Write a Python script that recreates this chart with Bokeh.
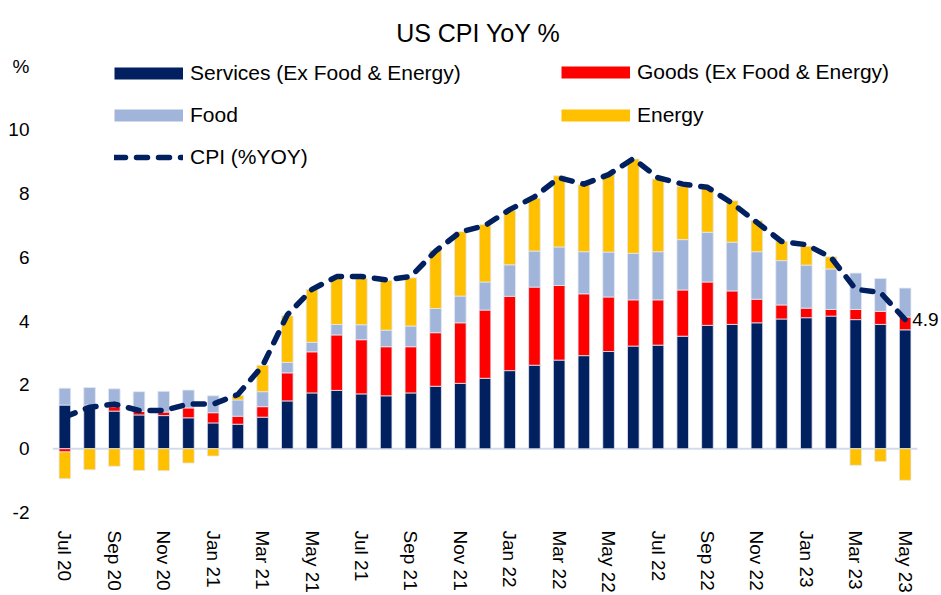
import math
import numpy as np
from bokeh.plotting import figure
from bokeh.models import (ColumnDataSource, Legend, LegendItem, Label,
                          FixedTicker, Range1d)
from bokeh.embed import file_html
from bokeh.resources import INLINE

months = ["Jul 20", "Aug 20", "Sep 20", "Oct 20", "Nov 20", "Dec 20",
          "Jan 21", "Feb 21", "Mar 21", "Apr 21", "May 21", "Jun 21",
          "Jul 21", "Aug 21", "Sep 21", "Oct 21", "Nov 21", "Dec 21",
          "Jan 22", "Feb 22", "Mar 22", "Apr 22", "May 22", "Jun 22",
          "Jul 22", "Aug 22", "Sep 22", "Oct 22", "Nov 22", "Dec 22",
          "Jan 23", "Feb 23", "Mar 23", "Apr 23", "May 23"]

services = [1.37, 1.33, 1.18, 1.06, 1.04, 0.97, 0.81, 0.77, 0.99, 1.50,
            1.75, 1.83, 1.72, 1.66, 1.75, 1.96, 2.05, 2.21, 2.45, 2.62,
            2.78, 2.92, 3.05, 3.22, 3.25, 3.53, 3.87, 3.90, 3.95, 4.07,
            4.11, 4.16, 4.05, 3.90, 3.73]
goods = [-0.10, 0.04, 0.14, 0.11, 0.11, 0.31, 0.32, 0.25, 0.33, 0.88,
         1.29, 1.74, 1.70, 1.54, 1.45, 1.68, 1.90, 2.14, 2.33, 2.45,
         2.34, 1.94, 1.71, 1.45, 1.42, 1.45, 1.36, 1.05, 0.74, 0.44,
         0.30, 0.21, 0.32, 0.41, 0.40]
food = [0.53, 0.55, 0.56, 0.62, 0.65, 0.56, 0.53, 0.51, 0.47, 0.33,
        0.30, 0.33, 0.47, 0.52, 0.65, 0.76, 0.84, 0.88, 0.99, 1.13,
        1.21, 1.32, 1.41, 1.46, 1.51, 1.58, 1.56, 1.53, 1.49, 1.39,
        1.35, 1.27, 1.14, 1.03, 0.91]
energy = [-0.84, -0.66, -0.55, -0.68, -0.69, -0.45, -0.23, 0.14, 0.83, 1.46,
          1.66, 1.49, 1.45, 1.56, 1.51, 1.82, 2.02, 1.80, 1.70, 1.66,
          2.23, 2.10, 2.44, 2.96, 2.28, 1.67, 1.41, 1.30, 0.98, 0.61,
          0.59, 0.38, -0.52, -0.40, -0.99]
cpi = [1.0, 1.3, 1.4, 1.2, 1.2, 1.4, 1.4, 1.7, 2.6, 4.2,
       5.0, 5.4, 5.4, 5.3, 5.4, 6.2, 6.8, 7.0, 7.5, 7.9,
       8.5, 8.3, 8.6, 9.1, 8.5, 8.3, 8.2, 7.7, 7.1, 6.5,
       6.4, 6.0, 5.0, 4.9, 4.05]
end_label = "4.9"
y_ticks = [-2, 0, 2, 4, 6, 8, 10]
y_tick_labels = ["-2", "0", "2", "4", "6", "8", "10"]
y_unit = "%"

series_names = ["Services (Ex Food & Energy)", "Goods (Ex Food & Energy)", "Food", "Energy"]
series_vals = [services, goods, food, energy]
series_colors = ["#002060", "#FF0000", "#A1B5DA", "#FFC000"]

x = list(range(len(months)))
FONT = "Liberation Sans"

p = figure(width=941, height=595, output_backend="svg", toolbar_location=None,
           x_range=Range1d(-0.5, 35.47), y_range=Range1d(-2, 14.06),
           min_border_left=52, min_border_right=0, min_border_top=0,
           min_border_bottom=81, background_fill_color="white",
           border_fill_color="white", outline_line_color=None)
p.grid.visible = False

# zero baseline across the category span
p.segment(x0=[x[0] - 0.5], x1=[x[-1] + 0.5], y0=[0], y1=[0],
          line_color="#D3DBEB", line_width=2, level="underlay")

pos = np.zeros(len(x))
neg = np.zeros(len(x))
for name, vals, col in zip(series_names, series_vals, series_colors):
    v = np.array(vals, dtype=float)
    bottom = np.where(v >= 0, pos, neg + v)
    top = np.where(v >= 0, pos + v, neg)
    pos = np.where(v >= 0, pos + v, pos)
    neg = np.where(v < 0, neg + v, neg)
    src = ColumnDataSource(dict(x=x, bottom=bottom, top=top))
    p.vbar(x="x", bottom="bottom", top="top", width=0.47, source=src,
           fill_color=col, line_color="#E3E8F2", line_width=0.8)

cpi_r = p.line(x, cpi, line_color="#002060", line_width=5.5,
               line_dash="11 11", line_cap="round", line_join="round")

# legend swatch renderers
sw = {}
for name, col in zip(series_names, series_colors):
    sw[name] = p.line([float("nan")], [float("nan")], line_color=col,
                      line_width=12, line_cap="butt")

def mk_legend(items, loc, spacing):
    lg = Legend(items=items, location=loc, orientation="vertical",
                glyph_width=69, glyph_height=24, label_height=24,
                label_standoff=7, spacing=spacing, padding=0, margin=0,
                border_line_color=None, background_fill_alpha=0,
                label_text_font=FONT, label_text_font_size="21px",
                label_text_color="#000000")
    p.add_layout(lg, "center")

mk_legend([LegendItem(label=series_names[0], renderers=[sw[series_names[0]]]),
           LegendItem(label=series_names[2], renderers=[sw[series_names[2]]]),
           LegendItem(label="CPI (%YOY)", renderers=[cpi_r])], (62, 343), 18)
mk_legend([LegendItem(label=series_names[1], renderers=[sw[series_names[1]]]),
           LegendItem(label=series_names[3], renderers=[sw[series_names[3]]])], (509, 385), 19)

# axes
p.yaxis.ticker = FixedTicker(ticks=y_ticks + [12])
overrides = {t: s for t, s in zip(y_ticks, y_tick_labels)}
overrides[12] = y_unit
p.yaxis.major_label_overrides = overrides
p.yaxis.axis_line_color = None
p.yaxis.major_tick_line_color = None
p.yaxis.minor_tick_line_color = None
p.yaxis.major_label_standoff = 17
p.yaxis.major_label_text_font = FONT
p.yaxis.major_label_text_font_size = "19px"
p.yaxis.major_label_text_color = "#000000"

ticks = x[::2]
p.xaxis.ticker = FixedTicker(ticks=ticks)
p.xaxis.major_label_overrides = {t: months[t] for t in ticks}
p.xaxis.major_label_orientation = -math.pi / 2
p.xaxis.axis_line_color = None
p.xaxis.major_tick_line_color = None
p.xaxis.minor_tick_line_color = None
p.xaxis.major_label_standoff = 12
p.xaxis.major_label_text_font = FONT
p.xaxis.major_label_text_font_size = "19px"
p.xaxis.major_label_text_color = "#000000"

p.add_layout(Label(x=16.73, y=13.04, text="US CPI YoY %", text_align="center",
                   text_baseline="alphabetic", text_font=FONT,
                   text_font_size="25px", text_color="#000000"))
p.add_layout(Label(x=x[-1], y=cpi[-1], x_offset=7, text=end_label,
                   text_align="left", text_baseline="alphabetic",
                   text_font=FONT, text_font_size="19px", text_color="#000000"))

open("out.html", "w").write(file_html(p, INLINE))
